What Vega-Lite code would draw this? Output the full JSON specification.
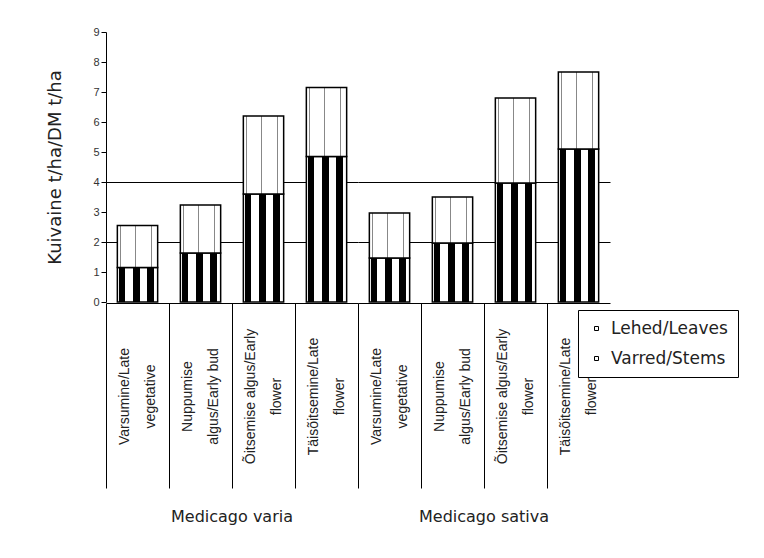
{
  "$schema": "https://vega.github.io/schema/vega-lite/v6.json",
  "padding": {"left": 46, "top": 26, "right": 5, "bottom": 5},
  "background": "white",
  "config": {
    "font": "Liberation Sans",
    "view": {"stroke": null},
    "facet": {"spacing": 0}
  },
  "data": {
    "values": [
      {"species": "Medicago varia", "stage": "Varsumine/Late|vegetative", "part": "Varred/Stems", "value": 1.15},
      {"species": "Medicago varia", "stage": "Varsumine/Late|vegetative", "part": "Lehed/Leaves", "value": 1.4},
      {"species": "Medicago varia", "stage": "Nuppumise|algus/Early bud", "part": "Varred/Stems", "value": 1.63},
      {"species": "Medicago varia", "stage": "Nuppumise|algus/Early bud", "part": "Lehed/Leaves", "value": 1.6},
      {"species": "Medicago varia", "stage": "Õitsemise algus/Early|flower", "part": "Varred/Stems", "value": 3.6},
      {"species": "Medicago varia", "stage": "Õitsemise algus/Early|flower", "part": "Lehed/Leaves", "value": 2.6},
      {"species": "Medicago varia", "stage": "Täisõitsemine/Late|flower", "part": "Varred/Stems", "value": 4.85},
      {"species": "Medicago varia", "stage": "Täisõitsemine/Late|flower", "part": "Lehed/Leaves", "value": 2.3},
      {"species": "Medicago sativa", "stage": "Varsumine/Late|vegetative", "part": "Varred/Stems", "value": 1.47},
      {"species": "Medicago sativa", "stage": "Varsumine/Late|vegetative", "part": "Lehed/Leaves", "value": 1.5},
      {"species": "Medicago sativa", "stage": "Nuppumise|algus/Early bud", "part": "Varred/Stems", "value": 1.97},
      {"species": "Medicago sativa", "stage": "Nuppumise|algus/Early bud", "part": "Lehed/Leaves", "value": 1.53},
      {"species": "Medicago sativa", "stage": "Õitsemise algus/Early|flower", "part": "Varred/Stems", "value": 3.97},
      {"species": "Medicago sativa", "stage": "Õitsemise algus/Early|flower", "part": "Lehed/Leaves", "value": 2.83},
      {"species": "Medicago sativa", "stage": "Täisõitsemine/Late|flower", "part": "Varred/Stems", "value": 5.1},
      {"species": "Medicago sativa", "stage": "Täisõitsemine/Late|flower", "part": "Lehed/Leaves", "value": 2.57}
    ]
  },
  "facet": {
    "column": {
      "field": "species",
      "type": "nominal",
      "sort": ["Medicago varia", "Medicago sativa"],
      "header": {
        "title": null,
        "labelOrient": "bottom",
        "labelFont": "DejaVu Sans",
        "labelFontSize": 16,
        "labelColor": "#222",
        "labelPadding": 20
      }
    }
  },
  "spec": {
    "width": 252,
    "height": 270,
    "mark": {"type": "bar", "strokeWidth": 1.5},
    "encoding": {
      "x": {
        "field": "stage",
        "type": "nominal",
        "sort": ["Varsumine/Late|vegetative", "Nuppumise|algus/Early bud", "Õitsemise algus/Early|flower", "Täisõitsemine/Late|flower"],
        "scale": {"paddingInner": 0.36, "paddingOuter": 0.18},
        "axis": {
          "title": null,
          "labelExpr": "split(datum.label, '|')",
          "labelAngle": -90,
          "labelAlign": "center",
          "labelBaseline": "middle",
          "labelFontSize": 14,
          "labelColor": "#222",
          "labelLineHeight": 26,
          "labelOffset": -13,
          "labelPadding": -92,
          "bandPosition": -0.28,
          "tickSize": 185,
          "tickColor": "black",
          "domainColor": "black",
          "labelLimit": 300
        }
      },
      "y": {
        "field": "value",
        "type": "quantitative",
        "stack": "zero",
        "scale": {"domain": [0, 9], "nice": false},
        "axis": {
          "title": "Kuivaine t/ha/DM t/ha",
          "titleFont": "DejaVu Sans",
          "titleFontSize": 18,
          "titleFontWeight": "normal",
          "titleColor": "#222",
          "titlePadding": 28,
          "values": [0, 1, 2, 3, 4, 5, 6, 7, 8, 9],
          "labelFontSize": 11,
          "labelColor": "#333",
          "tickSize": 5,
          "tickColor": "black",
          "domainColor": "black",
          "grid": true,
          "gridColor": "black",
          "gridOpacity": {"condition": {"test": "datum.value == 2 || datum.value == 4", "value": 1}, "value": 0}
        }
      },
      "order": {"field": "part", "sort": "descending"},
      "fill": {
        "condition": {
          "test": "datum.part === 'Varred/Stems'",
          "value": {"gradient": "linear", "x1": 0, "y1": 0, "x2": 1, "y2": 0, "stops": [
            {"offset": 0, "color": "white"}, {"offset": 0.04, "color": "white"}, {"offset": 0.04, "color": "black"}, {"offset": 0.2, "color": "black"}, {"offset": 0.2, "color": "white"},
            {"offset": 0.38, "color": "white"}, {"offset": 0.38, "color": "black"}, {"offset": 0.56, "color": "black"}, {"offset": 0.56, "color": "white"},
            {"offset": 0.74, "color": "white"}, {"offset": 0.74, "color": "black"}, {"offset": 0.92, "color": "black"}, {"offset": 0.92, "color": "white"}, {"offset": 1, "color": "white"}
          ]}
        },
        "value": {"gradient": "linear", "x1": 0, "y1": 0, "x2": 1, "y2": 0, "stops": [
          {"offset": 0, "color": "white"}, {"offset": 0.06, "color": "white"}, {"offset": 0.06, "color": "#888"}, {"offset": 0.09, "color": "#888"}, {"offset": 0.09, "color": "white"},
          {"offset": 0.44, "color": "white"}, {"offset": 0.44, "color": "#888"}, {"offset": 0.47, "color": "#888"}, {"offset": 0.47, "color": "white"},
          {"offset": 0.84, "color": "white"}, {"offset": 0.84, "color": "#888"}, {"offset": 0.87, "color": "#888"}, {"offset": 0.87, "color": "white"}, {"offset": 1, "color": "white"}
        ]}
      },
      "stroke": {
        "field": "part",
        "type": "nominal",
        "scale": {"domain": ["Lehed/Leaves", "Varred/Stems"], "range": ["black", "black"]},
        "legend": {
          "title": null,
          "orient": "none",
          "legendX": 472,
          "legendY": 278,
          "strokeColor": "black",
          "padding": 10,
          "labelFont": "DejaVu Sans",
          "labelFontSize": 17,
          "labelColor": "#222",
          "labelOffset": 6,
          "symbolType": "square",
          "symbolSize": 16,
          "symbolStrokeWidth": 1,
          "symbolFillColor": "white",
          "rowPadding": 12
        }
      }
    }
  }
}
